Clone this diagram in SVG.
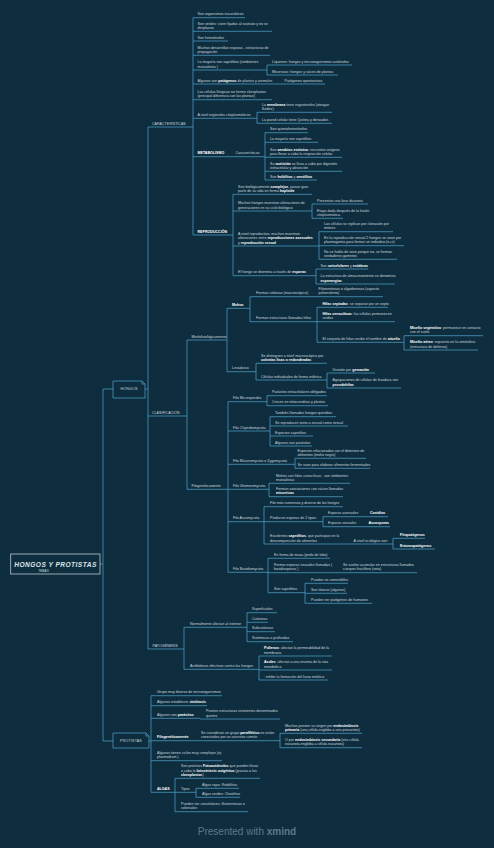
<svg xmlns="http://www.w3.org/2000/svg" width="494" height="848" viewBox="0 0 494 848">
<style>
.u{stroke:#4c98bc;stroke-width:.8;fill:none}
.c{stroke:#4c98bc;stroke-width:.8;fill:none}
text{font-family:"Liberation Sans",Arial,sans-serif;font-size:3.6px;fill:#cbd6dd}
.b{font-weight:bold;fill:#ffffff}
.box{fill:#0e2e40;stroke:#4c98bc;stroke-width:.8}
</style>
<rect width="494" height="848" fill="#0e2e40"/>
<g id="connectors">
<path class="c" d="M100,564H103M103,389V741M103,389H113M103,741H113"/>
<path class="c" d="M145,389H148M148,127V649"/>
<path class="c" d="M149,741H151M151,695.7V792.3"/>
<path class="c" d="M193,17.7V235M267,65V75M257,112.3V123.3M265,132.7V180M233,194.3V275.7M312,204V218.3M319,231.7V259.3M316,269V284"/>
<path class="c" d="M187,340V489.3M227,308.3V371.7M250,296.7V321.7M317,307.3V342.3M404,335.7V350M256,363.3V380M327,373V388"/>
<path class="c" d="M228,401.7V572.3M267,395.7V405.7M270,416.7V446M295,458.3V468.3M269,483.3V496.7M264,506.7V544M323,516.7V526.7M393,538.3V549M268,558.3V592.7M305,583.3V603.3"/>
<path class="c" d="M184,627.3V669.3M247,612.7V641.7M259,656V680"/>
<path class="c" d="M280,733.3V747.7M175,778.3V811.7M196,788.3V797.3"/>
</g>
<g id="root">
<rect x="10.7" y="554" width="89.3" height="20" fill="#0e2e40" stroke="#bcc6cc" stroke-width=".8"/>
<text x="55.5" y="566.5" text-anchor="middle" style="font-size:6.6px;font-style:italic;font-weight:bold;letter-spacing:.45px;fill:#dfe6ea">HONGOS Y PROTISTAS</text>
<text x="43.5" y="572" text-anchor="middle" style="font-size:2.8px;fill:#dfe6ea">TEMA 9</text>
</g>
<g id="hongos">
<path class="box" d="M113,381H142L145,384V398H113Z"/>
<path class="u" d="M142,381V384H145"/>
<text x="129" y="390.3" text-anchor="middle" style="letter-spacing:.2px">HONGOS</text>
</g>
<g id="protistas">
<path class="box" d="M113,733H146L149,736V748H113Z"/>
<path class="u" d="M146,733V736H149"/>
<text x="131" y="742.2" text-anchor="middle" style="letter-spacing:.2px">PROTISTAS</text>
</g>
<g id="caracteristicas"><path class="u" d="M148,127H193"/><text x="152" y="124.7">CARACTERÍSTICAS</text></g>
<g id="c1"><path class="u" d="M193,17.7H245"/><text x="197.5" y="15.4">Son organismos eucarióticos</text></g>
<g id="c2"><path class="u" d="M193,31.3H272"/><text x="197.5" y="24.7">Son sésiles: viven fijados al sustrato y no se</text><text x="197.5" y="29">desplazan</text></g>
<g id="c3"><path class="u" d="M193,41H228"/><text x="197.5" y="38.7">Son heterótrofos</text></g>
<g id="c4"><path class="u" d="M193,55.3H270"/><text x="197.5" y="48.7">Muchos desarrollan esporas - estructuras de</text><text x="197.5" y="53">propagación</text></g>
<g id="c5"><path class="u" d="M193,70H267"/><text x="197.5" y="63.4">La mayoría son saprófitas (simbiontes</text><text x="197.5" y="67.7">mutualistas )</text></g>
<g id="c5a"><path class="u" d="M267,65H352"/><text x="272" y="62.7">Líquenes: hongos y microorganismos autótrofos</text></g>
<g id="c5b"><path class="u" d="M267,75H338"/><text x="272" y="72.7">Micorrizas: hongos y raíces de plantas</text></g>
<g id="c6"><path class="u" d="M193,84H282"/><text x="197.5" y="81.7">Algunos son <tspan class="b">patógenos</tspan> de plantas y animales</text></g>
<g id="c6a"><path class="u" d="M282,84H325"/><text x="284.5" y="81.7">Patógenos oportunistas</text></g>
<g id="c7"><path class="u" d="M193,99.7H272"/><text x="197.5" y="93.1">Las células fúngicas no tienen cloroplastos</text><text x="197.5" y="97.4">(principal diferencia con las plantas)</text></g>
<g id="c8"><path class="u" d="M193,118.3H257"/><text x="197.5" y="116">A nivel orgánulos citoplasmáticos</text></g>
<g id="c8a"><path class="u" d="M257,112.3H332"/><text x="262" y="105.7">La <tspan class="b">membrana</tspan> tiene ergosteroles (otorgan</text><text x="262" y="110">fluidez)</text></g>
<g id="c8b"><path class="u" d="M257,123.3H332"/><text x="262" y="121">La pared celular tiene Quitina y derivados</text></g>
<g id="metabolismo"><path class="u" d="M193,156.7H232"/><text x="197.5" y="154.4" class="b">METABOLISMO</text></g>
<g id="meta-car"><path class="u" d="M232,156.7H265"/><text x="235.5" y="154.4">Características</text></g>
<g id="m1"><path class="u" d="M265,132.7H308"/><text x="270" y="130.4">Son quimioheterótrofos</text></g>
<g id="m2"><path class="u" d="M265,142.3H318"/><text x="270" y="140">La mayoría son saprófitos</text></g>
<g id="m3"><path class="u" d="M265,157.3H342"/><text x="270" y="150.7">Son <tspan class="b">aerobios estrictos</tspan>: necesitan oxígeno</text><text x="270" y="155">para llevar a cabo la respiración celular</text></g>
<g id="m4"><path class="u" d="M265,171.3H342"/><text x="270" y="164.7">Su <tspan class="b">nutrición</tspan> se lleva a cabo por digestión</text><text x="270" y="169">extracelular y absorción</text></g>
<g id="m5"><path class="u" d="M265,180H317"/><text x="270" y="177.7">Son <tspan class="b">holófitos</tspan> y <tspan class="b">cenófitos</tspan></text></g>
<g id="reproduccion"><path class="u" d="M193,235H233"/><text x="197.5" y="232.7" class="b">REPRODUCCIÓN</text></g>
<g id="r1"><path class="u" d="M233,194.3H312"/><text x="238" y="187.7">Son biológicamente <tspan class="b">complejos</tspan>, pasan gran</text><text x="238" y="192">parte de su vida en forma <tspan class="b">haploide</tspan></text></g>
<g id="r2"><path class="u" d="M233,211H312"/><text x="238" y="204.4">Muchos hongos muestran alteraciones de</text><text x="238" y="208.7">generaciones en su ciclo biológico</text></g>
<g id="r2a"><path class="u" d="M312,204H368"/><text x="317" y="201.7">Presentan una fase dicariota</text></g>
<g id="r2b"><path class="u" d="M312,218.3H343"/><text x="317" y="211.7">Etapa dada después de la fusión</text><text x="317" y="216">citoplasmática.</text></g>
<g id="r3"><path class="u" d="M233,246H319"/><text x="238" y="235.1">A nivel reproductivo, muchos muestran</text><text x="238" y="239.4">alteraciones entre <tspan class="b">reproducciones asexuales</tspan></text><text x="238" y="243.7">y <tspan class="b">reproducción sexual</tspan></text></g>
<g id="r3a"><path class="u" d="M319,231.7H393"/><text x="324" y="225.1">Las células se replican por clonación por</text><text x="324" y="229.4">mitosis</text></g>
<g id="r3b"><path class="u" d="M319,245.7H404"/><text x="324" y="239.1">En la reproducción sexual 2 hongos se unen por</text><text x="324" y="243.4">plasmogamia para formar un individuo (n+n)</text></g>
<g id="r3c"><path class="u" d="M319,259.3H397"/><text x="324" y="252.7">No se habla de sexo porque no, se forman</text><text x="324" y="257">verdaderos gametos</text></g>
<g id="r4"><path class="u" d="M233,275.7H316"/><text x="238" y="273.4">El hongo se disemina a través de <tspan class="b">esporas</tspan></text></g>
<g id="r4a"><path class="u" d="M316,269H368"/><text x="320.5" y="266.7">Son <tspan class="b">unicelulares</tspan> y <tspan class="b">estáticas</tspan></text></g>
<g id="r4b"><path class="u" d="M316,284H395"/><text x="320.5" y="277.4">La estructura de almacenamiento se denomina</text><text x="320.5" y="281.7" class="b">esporangios</text></g>
<g id="clasificacion"><path class="u" d="M148,416H187"/><text x="152" y="413.7">CLASIFICACIÓN</text></g>
<g id="morfo"><path class="u" d="M187,340H227"/><text x="191.5" y="337.7">Morfofisiológicamente</text></g>
<g id="mohos"><path class="u" d="M227,308.3H250"/><text x="232" y="306" class="b">Mohos</text></g>
<g id="mo1"><path class="u" d="M250,296.7H317"/><text x="256" y="294.4">Forman colonias (macroscópico)</text></g>
<g id="mo1a"><path class="u" d="M317,296.7H383"/><text x="318.5" y="290.1">Filamentosas o algodonosas (aspecto</text><text x="318.5" y="294.4">pulverulento)</text></g>
<g id="mo2"><path class="u" d="M250,321.7H317"/><text x="256" y="319.4">Forman estructuras llamadas hifas</text></g>
<g id="mo2a"><path class="u" d="M317,307.3H388"/><text x="322.5" y="305"><tspan class="b">Hifas septadas</tspan>: se separan por un septo</text></g>
<g id="mo2b"><path class="u" d="M317,321.7H395"/><text x="322.5" y="315.1"><tspan class="b">Hifas cenocíticas</tspan>: las células permanecen</text><text x="322.5" y="319.4">unidas</text></g>
<g id="mo2c"><path class="u" d="M317,342.3H404"/><text x="322.5" y="340">El conjunto de hifas recibe el nombre de <tspan class="b">micelio</tspan></text></g>
<g id="mi1"><path class="u" d="M404,335.7H483"/><text x="410" y="329.1"><tspan class="b">Micelio vegetativo</tspan>: permanece en contacto</text><text x="410" y="333.4">con el suelo</text></g>
<g id="mi2"><path class="u" d="M404,350H478"/><text x="410" y="343.4"><tspan class="b">Micelio aéreo</tspan>: expuesto en la atmósfera</text><text x="410" y="347.7">(estructura de defensa)</text></g>
<g id="levaduras"><path class="u" d="M227,371.7H256"/><text x="232" y="369.4">Levaduras</text></g>
<g id="lv1"><path class="u" d="M256,363.3H327"/><text x="261" y="356.7">Se distinguen a nivel macroscópico por</text><text x="261" y="361" class="b">colonias lisas o redondeadas</text></g>
<g id="lv2"><path class="u" d="M256,380H327"/><text x="261" y="377.7">Células individuales de forma esférica</text></g>
<g id="lv2a"><path class="u" d="M327,373H375"/><text x="332.5" y="370.7">División por <tspan class="b">gemación</tspan></text></g>
<g id="lv2b"><path class="u" d="M327,388H401"/><text x="332.5" y="381.4">Agrupaciones de células de levadura son</text><text x="332.5" y="385.7" class="b">pseudohifas</text></g>
<g id="filogeneticamente"><path class="u" d="M187,489.3H228"/><text x="191.5" y="487">Filogenéticamente</text></g>
<g id="fm"><path class="u" d="M228,401.7H267"/><text x="233" y="399.4">Filo Microsporidia</text></g>
<g id="fm1"><path class="u" d="M267,395.7H327"/><text x="272" y="393.4">Parásitos intracelulares obligados</text></g>
<g id="fm2"><path class="u" d="M267,405.7H328"/><text x="272" y="403.4">Crecen en mitocondrias y plastos</text></g>
<g id="fc"><path class="u" d="M228,431H270"/><text x="233" y="428.7">Filo Chytridiomycota</text></g>
<g id="fc1"><path class="u" d="M270,416.7H336"/><text x="275" y="414.4">También llamados hongos quitridios</text></g>
<g id="fc2"><path class="u" d="M270,426H348"/><text x="275" y="423.7">Se reproducen tanto a sexual como sexual</text></g>
<g id="fc3"><path class="u" d="M270,436H313"/><text x="275" y="433.7">Especies saprofitas</text></g>
<g id="fc4"><path class="u" d="M270,446H312"/><text x="275" y="443.7">Algunos son parásitos</text></g>
<g id="fz"><path class="u" d="M228,464.3H295"/><text x="233" y="462">Filo Mucoromycota o Zygomycota</text></g>
<g id="fz1"><path class="u" d="M295,458.3H366"/><text x="297.5" y="451.7">Especies relacionadas con el deterioro de</text><text x="297.5" y="456">alimentos (moho negro)</text></g>
<g id="fz2"><path class="u" d="M295,468.3H370"/><text x="297.5" y="466">Se usan para elaborar alimentos fermentados</text></g>
<g id="fg"><path class="u" d="M228,489.3H269"/><text x="233" y="487">Filo Glomeromycota</text></g>
<g id="fg1"><path class="u" d="M269,483.3H350"/><text x="276" y="476.7">Mohos con hifas cenocíticas , son simbiontes</text><text x="276" y="481">mutualistas</text></g>
<g id="fg2"><path class="u" d="M269,496.7H343"/><text x="276" y="490.1">Forman asociaciones con raíces llamadas</text><text x="276" y="494.4" class="b">micorrizas</text></g>
<g id="fa"><path class="u" d="M228,521.7H264"/><text x="233" y="519.4">Filo Ascomycota</text></g>
<g id="fa1"><path class="u" d="M264,506.7H343"/><text x="270" y="504.4">Filo más numeroso y diverso de los hongos</text></g>
<g id="fa2"><path class="u" d="M264,521.7H323"/><text x="270" y="519.4">Producen esporas de 2 tipos:</text></g>
<g id="fa2a"><path class="u" d="M323,516.7H368"/><text x="328" y="514.4">Esporas asexuales</text></g>
<g id="fa2a1"><path class="u" d="M368,516.7H388"/><text x="370" y="514.4" class="b">Conidios</text></g>
<g id="fa2b"><path class="u" d="M323,526.7H367"/><text x="328" y="524.4">Esporas sexuales</text></g>
<g id="fa2b1"><path class="u" d="M367,526.7H390"/><text x="368.5" y="524.4" class="b">Ascosporas</text></g>
<g id="fa3"><path class="u" d="M264,544H352"/><text x="270" y="537.4">Excelentes <tspan class="b">saprófitos</tspan>, que participan en la</text><text x="270" y="541.7">descomposición de alimentos</text></g>
<g id="fa3a"><path class="u" d="M352,544H393"/><text x="353.5" y="541.7">A nivel ecológico son:</text></g>
<g id="fa3a1"><path class="u" d="M393,538.3H425"/><text x="400" y="536" class="b">Fitopatógenos</text></g>
<g id="fa3a2"><path class="u" d="M393,549H435"/><text x="400" y="546.7" class="b">Entomopatógenos</text></g>
<g id="fb"><path class="u" d="M228,572.3H268"/><text x="233" y="570">Filo Basidiomycota</text></g>
<g id="fb1"><path class="u" d="M268,558.3H330"/><text x="274" y="556">En forma de maza (pedo de lobo)</text></g>
<g id="fb2"><path class="u" d="M268,572.7H338"/><text x="274" y="566.1">Formar esporas sexuales llamadas (</text><text x="274" y="570.4">basidiosporas )</text></g>
<g id="fb2a"><path class="u" d="M338,572.7H417"/><text x="343" y="566.1">Se suelen acumular en estructuras llamados</text><text x="343" y="570.4">cuerpos fructífero (seta)</text></g>
<g id="fb3"><path class="u" d="M268,592.7H305"/><text x="274" y="590.4">Son saprófitos</text></g>
<g id="fb3a"><path class="u" d="M305,583.3H348"/><text x="311" y="581">Pueden se comestibles</text></g>
<g id="fb3b"><path class="u" d="M305,593.3H347"/><text x="311" y="591">Son tóxicos (algunos)</text></g>
<g id="fb3c"><path class="u" d="M305,603.3H372"/><text x="311" y="601">Pueden ser patógenos de humanos</text></g>
<g id="patogenesis"><path class="u" d="M148,649H184"/><text x="152.5" y="646.7">PATOGÉNESIS</text></g>
<g id="pa1"><path class="u" d="M184,627.3H247"/><text x="190" y="625">Normalmente afectan al exterior</text></g>
<g id="pa1a"><path class="u" d="M247,612.7H277"/><text x="252" y="610.4">Superficiales</text></g>
<g id="pa1b"><path class="u" d="M247,622.3H268"/><text x="252" y="620">Cutáneas</text></g>
<g id="pa1c"><path class="u" d="M247,631.7H275"/><text x="252" y="629.4">Subcutáneas</text></g>
<g id="pa1d"><path class="u" d="M247,641.7H293"/><text x="252" y="639.4">Sistémicas o profundas</text></g>
<g id="pa2"><path class="u" d="M184,669.3H259"/><text x="190" y="667">Antibióticos efectivos contra los hongos</text></g>
<g id="pa2a"><path class="u" d="M259,656H332"/><text x="264" y="649.4"><tspan class="b">Polienos</tspan>: afectan la permeabilidad de la</text><text x="264" y="653.7">membrana</text></g>
<g id="pa2b"><path class="u" d="M259,670H332"/><text x="264" y="663.4"><tspan class="b">Azoles</tspan>: afectan a una enzima de la ruta</text><text x="264" y="667.7">metabólica</text></g>
<g id="pa2c"><path class="u" d="M259,680H328"/><text x="264" y="677.7">: inhibe la formación del huso mitótico</text></g>
<g id="p1"><path class="u" d="M151,695.7H222"/><text x="157" y="693.4">Grupo muy diverso de microorganismos</text></g>
<g id="p2"><path class="u" d="M151,705.7H207"/><text x="157" y="703.4">Algunos establecen <tspan class="b">simbiosis</tspan></text></g>
<g id="p3"><path class="u" d="M151,718.3H200"/><text x="157" y="716">Algunos son <tspan class="b">parásitos</tspan></text></g>
<g id="p3a"><path class="u" d="M200,719H280"/><text x="206" y="712.4">Poseen estructuras resistentes denominados</text><text x="206" y="716.7">quistes</text></g>
<g id="p4"><path class="u" d="M151,740.7H199"/><text x="157" y="738.4" class="b">Filogenéticamente</text></g>
<g id="p4a"><path class="u" d="M199,740.7H280"/><text x="201" y="734.1">Se consideran un grupo <tspan class="b">parafilético</tspan> no están</text><text x="201" y="738.4">conectados por un ancestro común</text></g>
<g id="p4a1"><path class="u" d="M280,733.3H362"/><text x="285" y="726.7">Muchos poseen su origen por <tspan class="b">endosimbiosis</tspan></text><text x="285" y="731"><tspan class="b">primaria</tspan> (una célula engloba a una procariota)</text></g>
<g id="p4a2"><path class="u" d="M280,747.7H362"/><text x="285" y="741.1">O por <tspan class="b">endosimbiosis secundaria</tspan> (una célula</text><text x="285" y="745.4">eucariota engloba a célula eucariota)</text></g>
<g id="p5"><path class="u" d="M151,760.7H222"/><text x="157" y="754.1">Algunos tienen ciclos muy complejos (ej:</text><text x="157" y="758.4">plasmodium )</text></g>
<g id="algas"><path class="u" d="M151,792.3H175"/><text x="157" y="790" class="b">ALGAS</text></g>
<g id="al1"><path class="u" d="M175,778.3H260"/><text x="181" y="767.4">Son protistas <tspan class="b">Fotoautótrofos</tspan> que pueden llevar</text><text x="181" y="771.7">a cabo la <tspan class="b">fotosíntesis oxigénica</tspan> (gracias a los</text><text x="181" y="776" class="b">cloroplastos<tspan style="font-weight:normal;fill:#cbd6dd">)</tspan></text></g>
<g id="al2"><path class="u" d="M175,792.3H196"/><text x="181" y="790">Tipos</text></g>
<g id="al2a"><path class="u" d="M196,788.3H239"/><text x="202" y="786">Algas rojas: Rodófitas</text></g>
<g id="al2b"><path class="u" d="M196,797.3H240"/><text x="202" y="795">Algas verdes: Clorofitas</text></g>
<g id="al3"><path class="u" d="M175,811.7H248"/><text x="181" y="805.1">Pueden ser unicelulares, filamentosas o</text><text x="181" y="809.4">coloniales</text></g>
<text x="247" y="835" text-anchor="middle" style="font-size:10px;fill:#5f7786">Presented with <tspan style="font-weight:bold">xmind</tspan></text>
</svg>
